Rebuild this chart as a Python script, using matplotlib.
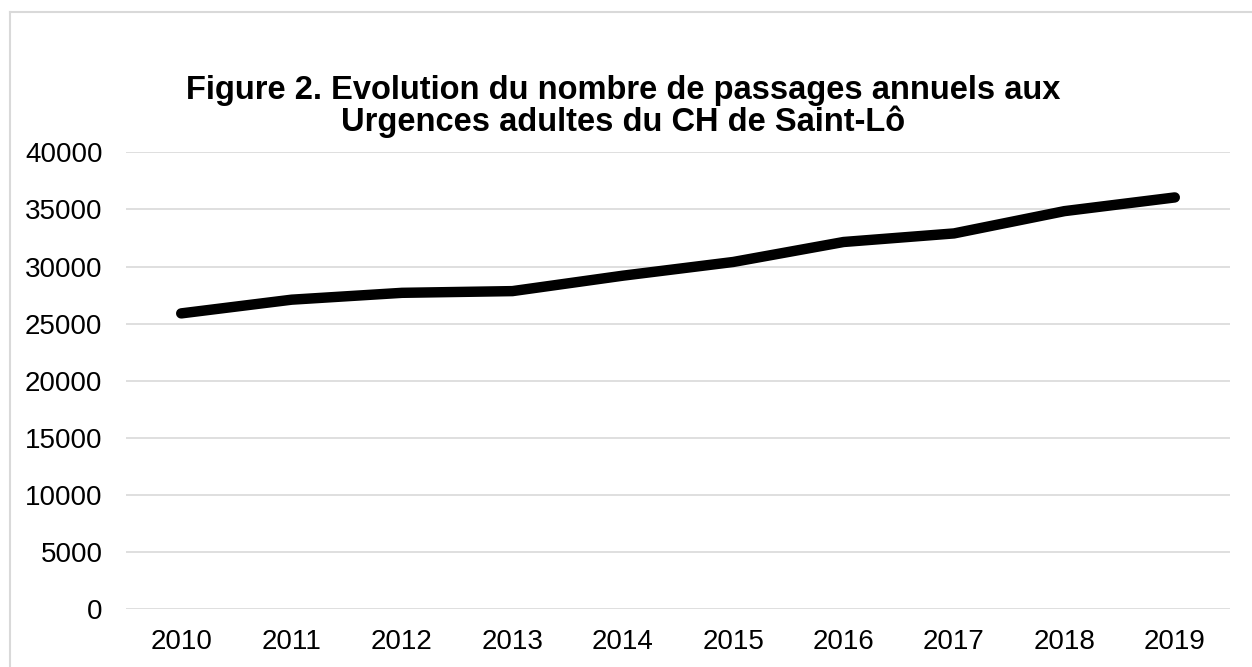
import matplotlib
matplotlib.use("Agg")
import matplotlib.pyplot as plt
from matplotlib.lines import Line2D

years = ["2010", "2011", "2012", "2013", "2014", "2015", "2016", "2017", "2018", "2019"]
passages = [25900, 27100, 27700, 27850, 29200, 30400, 32150, 32900, 34850, 36050]
yticks = [0, 5000, 10000, 15000, 20000, 25000, 30000, 35000, 40000]
title = "Figure 2. Evolution du nombre de passages annuels aux\nUrgences adultes du CH de Saint-Lô"

plt.rcParams['font.family'] = ['Liberation Sans', 'DejaVu Sans']

W, H = 1252, 667
fig = plt.figure(figsize=(W / 100, H / 100), dpi=100)
ax = fig.add_axes([126 / W, 1 - 609.3 / H, (1230 - 126) / W, (609.3 - 152.3) / H])

x = list(range(len(years)))
ax.plot(x, passages, color="black", linewidth=7.5, solid_capstyle="round", solid_joinstyle="round", zorder=3)

ax.set_xlim(-0.5, len(years) - 0.5)
ax.set_ylim(0, 40000)
ax.set_yticks(yticks)
ax.set_yticklabels([str(v) for v in yticks])
ax.set_xticks(x)
ax.set_xticklabels(years)
ax.tick_params(axis="both", length=0, labelsize=20, colors="black")
ax.tick_params(axis="y", pad=17)
ax.tick_params(axis="x", pad=14)
ax.grid(axis="y", color="#d9d9d9", linewidth=1.2)
ax.set_axisbelow(True)
for s in ax.spines.values():
    s.set_visible(False)

fig.text(0.498, 1 - 106.5 / H, title, ha="center", va="center", fontsize=23.5,
         fontweight="bold", linespacing=1.0)

# chart frame (top and left visible)
fig.add_artist(Line2D([10 / W, 1], [1 - 12 / H, 1 - 12 / H], transform=fig.transFigure,
                      color="#d9d9d9", linewidth=1.5))
fig.add_artist(Line2D([10 / W, 10 / W], [1 - 12 / H, 0], transform=fig.transFigure,
                      color="#d9d9d9", linewidth=1.5))

fig.savefig("out.png", dpi=100, facecolor="white")
